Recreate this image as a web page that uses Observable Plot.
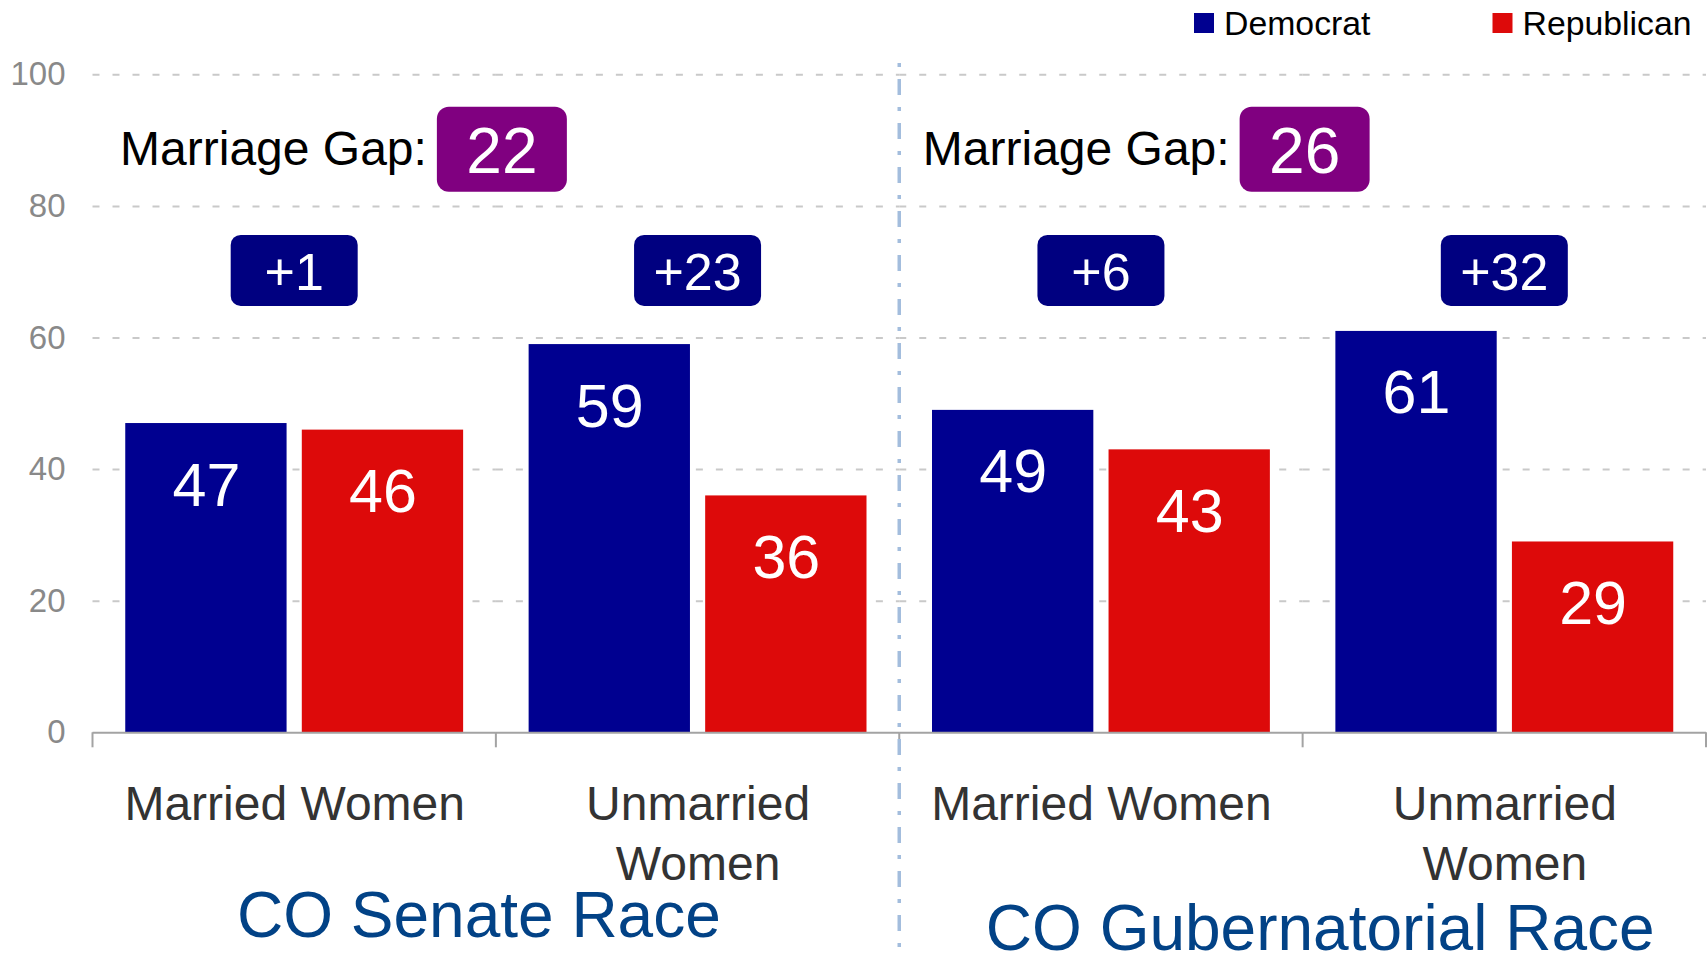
<!DOCTYPE html>
<html><head><meta charset="utf-8">
<script src="https://cdn.jsdelivr.net/npm/d3@7"></script>
<script src="https://cdn.jsdelivr.net/npm/@observablehq/plot@0.6"></script>
<style>html,body{margin:0;padding:0;background:#fff} svg{display:block}</style>
</head><body><div id="chart"></div>
<script>
// ---- data ----
const races = ["CO Senate Race", "CO Gubernatorial Race"];
const groups = ["Married Women", "Unmarried Women"];
const groupLines = ["Married Women", "Unmarried\nWomen"];
const parties = ["Democrat", "Republican"];
const partyColors = ["#000090", "#dd0a0a"];
const democrat = [47, 59, 49, 61];
const republican = [46, 36, 43, 29];
const margins = ["+1", "+23", "+6", "+32"];
const marriageGap = [22, 26];
const yTicks = [0, 20, 40, 60, 80, 100];

// ---- derived tables ----
const keys = races.flatMap(r => groups.map(g => `${r} | ${g}`));
const bars = keys.flatMap((k, i) => [
  {key: k, party: parties[0], value: democrat[i]},
  {key: k, party: parties[1], value: republican[i]}
]);
const groupRows = keys.map((k, i) => ({key: k, label: groupLines[i % 2], margin: margins[i]}));

const FONT = "'Liberation Sans', Arial, Helvetica, sans-serif";
const chart = Plot.plot({
  width: 1707, height: 955,
  marginLeft: 92.5, marginRight: 1, marginTop: 74.3, marginBottom: 955 - 732.3,
  style: {fontFamily: FONT, background: "#fff", overflow: "visible"},
  fx: {domain: keys, padding: 0, round: false, axis: null},
  x: {domain: parties, paddingInner: 0.0862, paddingOuter: 0.1855, round: false, axis: null},
  y: {domain: [0, 100], axis: null},
  color: {domain: parties, range: partyColors},
  marks: [
    Plot.ruleY(yTicks.filter(d => d > 0), {stroke: "#c9c9c9", strokeWidth: 2, strokeDasharray: "7,13"}),
    Plot.barY(bars, {fx: "key", x: "party", y: "value", fill: "party"}),
    Plot.text(bars, {fx: "key", x: "party", y: "value", text: d => String(d.value), fill: "white", fontSize: 61, dy: 62.5}),
    Plot.ruleY([0], {stroke: "#a3a3a3", strokeWidth: 2}),
    Plot.axisY({ticks: yTicks, tickSize: 0, tickPadding: 27.5, fontSize: 33, color: "#898989", anchor: "left", label: null}),
    Plot.text(groupRows, {fx: "key", text: "label", frameAnchor: "bottom", lineAnchor: "top", dy: 45, fontSize: 48, fill: "#333", lineHeight: 1.25})
  ]
});
document.getElementById("chart").appendChild(chart);

// ---- annotations drawn with the plot's own scales ----
const svg = d3.select(chart);
const fx = chart.scale("fx"), y = chart.scale("y");
const bw = fx.bandwidth;
const left = k => fx.apply(k);
const y0 = y.apply(0);
const g = svg.append("g").attr("font-family", FONT).attr("text-anchor", "start");

// category ticks on x axis
const bounds = keys.map(left).concat([left(keys[keys.length - 1]) + bw]);
g.selectAll("line.tick").data(bounds).join("line")
  .attr("x1", d => d).attr("x2", d => d).attr("y1", y0).attr("y2", y0 + 15)
  .attr("stroke", "#a3a3a3").attr("stroke-width", 2);

// divider between races
const xd = left(keys[2]);
g.append("line").attr("x1", xd).attr("x2", xd).attr("y1", 63).attr("y2", 947)
  .attr("stroke", "#a3bddd").attr("stroke-width", 3.5).attr("stroke-dasharray", "4,12,16,12");

// margin boxes
groupRows.forEach(r => {
  const cx = left(r.key) + bw / 2, cy = y.apply(70.2);
  g.append("rect").attr("x", cx - 63.5).attr("y", cy - 35.5).attr("width", 127).attr("height", 71)
    .attr("rx", 10).attr("fill", "#000080");
  g.append("text").attr("x", cx).attr("y", cy + 19.5).attr("text-anchor", "middle")
    .attr("font-size", 52).attr("fill", "#fff").text(r.margin);
});

// marriage gap annotations and race labels
races.forEach((race, ri) => {
  const bx = left(keys[2 * ri + 1]);
  const cx = bx + (ri ? 2 : 6), cy = y.apply(88.6);
  g.append("rect").attr("x", cx - 65).attr("y", cy - 42.5).attr("width", 130).attr("height", 85)
    .attr("rx", 12).attr("fill", "#800080");
  g.append("text").attr("x", cx).attr("y", cy + 24).attr("text-anchor", "middle")
    .attr("font-size", 64).attr("fill", "#fff").text(marriageGap[ri]);
  g.append("text").attr("x", cx - 65 - 10).attr("y", cy + 15.5).attr("text-anchor", "end")
    .attr("font-size", 48).attr("fill", "#000").text("Marriage Gap:");
  g.append("text").attr("x", bx + (ri ? 17.6 : -17)).attr("y", ri ? 950 : 937).attr("text-anchor", "middle")
    .attr("font-size", 64).attr("fill", "#024286").text(race);
});

// legend
const legendX = [1194, 1492.5];
parties.forEach((p, i) => {
  g.append("rect").attr("x", legendX[i]).attr("y", 13).attr("width", 20).attr("height", 20).attr("fill", partyColors[i]);
  g.append("text").attr("x", legendX[i] + 30).attr("y", 34.5).attr("text-anchor", "start")
    .attr("font-size", 33.8).attr("fill", "#000").text(p);
});
</script>
</body></html>
